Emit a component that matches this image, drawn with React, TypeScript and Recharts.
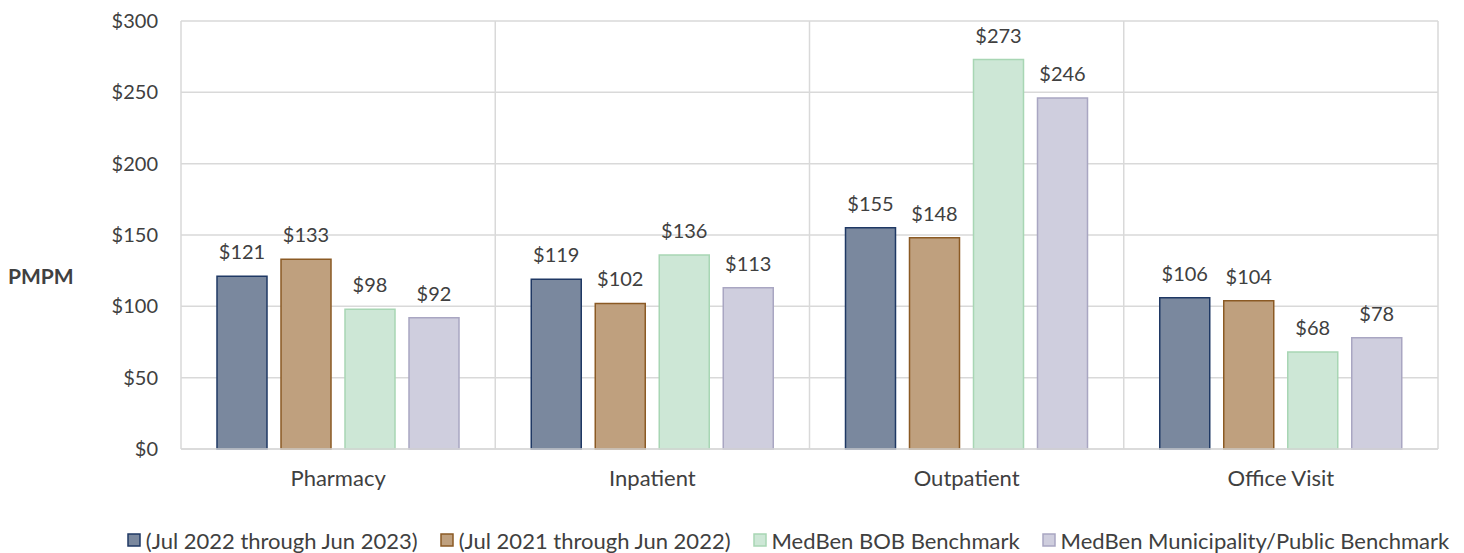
import React from 'react';
import {
  BarChart,
  Bar,
  XAxis,
  YAxis,
  CartesianGrid,
  Legend,
  LabelList,
} from 'recharts';

const categories = ['Pharmacy', 'Inpatient', 'Outpatient', 'Office Visit'];
const current = [121, 119, 155, 106];
const prior = [133, 102, 148, 104];
const bobBenchmark = [98, 136, 273, 68];
const publicBenchmark = [92, 113, 246, 78];
const yTicks = [0, 50, 100, 150, 200, 250, 300];

const series = [
  { key: 'current', name: '(Jul 2022 through Jun 2023)', fill: '#7A889E', stroke: '#1F3864' },
  { key: 'prior', name: '(Jul 2021 through Jun 2022)', fill: '#BFA07E', stroke: '#8B5A24' },
  { key: 'bob', name: 'MedBen BOB Benchmark', fill: '#CDE7D6', stroke: '#A8D6B4' },
  { key: 'public', name: 'MedBen Municipality/Public Benchmark', fill: '#CFCEDE', stroke: '#A9A6C2' },
];

const data = categories.map((name, i) => ({
  name,
  current: current[i],
  prior: prior[i],
  bob: bobBenchmark[i],
  public: publicBenchmark[i],
}));

const FONT = 'Lato, "Open Sans", sans-serif';
const TEXT = '#404040';
const GRID = '#D9D9D9';

const money = (v: number) => `$${v}`;

function LegendContent() {
  return (
    <div
      style={{
        display: 'flex',
        justifyContent: 'center',
        alignItems: 'center',
        height: 26,
        fontFamily: FONT,
        fontSize: 22,
        color: TEXT,
        gap: 22,
        whiteSpace: 'nowrap',
      }}
    >
      {series.map((s) => (
        <div key={s.key} style={{ display: 'flex', alignItems: 'center' }}>
          <svg width={14} height={14} style={{ marginRight: 5 }}>
            <rect x={1} y={1} width={12} height={12} fill={s.fill} stroke={s.stroke} strokeWidth={1.5} />
          </svg>
          <span>{s.name}</span>
        </div>
      ))}
    </div>
  );
}

export default function App() {
  return (
    <div style={{ position: 'absolute', left: 0, top: 0, background: '#fff' }}>
      <BarChart
        width={1464}
        height={553}
        data={data}
        margin={{ top: 21, right: 26, bottom: 0, left: 0 }}
        barSize={50}
        barGap={14}
      >
        <CartesianGrid
          stroke={GRID}
          strokeWidth={1.5}
          verticalCoordinatesGenerator={({ offset }: any) => {
            const step = offset.width / categories.length;
            return categories.map((_, i) => offset.left + i * step).concat(offset.left + offset.width);
          }}
        />
        <XAxis
          dataKey="name"
          height={78}
          tickLine={false}
          tickSize={0}
          tickMargin={21}
          axisLine={{ stroke: GRID, strokeWidth: 1.5 }}
          tick={{ fill: TEXT, fontSize: 22, fontFamily: FONT }}
        />
        <YAxis
          width={181}
          domain={[0, 300]}
          ticks={yTicks}
          tickFormatter={money}
          axisLine={false}
          tickLine={false}
          tickSize={0}
          tickMargin={23}
          tick={{ fill: TEXT, fontSize: 20, fontFamily: FONT }}
          label={{
            value: 'PMPM',
            position: 'insideLeft',
            offset: 8,
            dy: 42,
            fill: TEXT,
            fontSize: 21,
            fontWeight: 700,
            fontFamily: FONT,
          }}
        />
        <Legend verticalAlign="bottom" content={<LegendContent />} wrapperStyle={{ left: 128, width: 1320 }} />
        {series.map((s) => (
          <Bar
            key={s.key}
            dataKey={s.key}
            name={s.name}
            fill={s.fill}
            stroke={s.stroke}
            strokeWidth={1.5}
            isAnimationActive={false}
          >
            <LabelList
              dataKey={s.key}
              position="top"
              offset={17}
              formatter={money}
              fill={TEXT}
              fontSize={20}
              fontFamily={FONT}
            />
          </Bar>
        ))}
      </BarChart>
    </div>
  );
}
